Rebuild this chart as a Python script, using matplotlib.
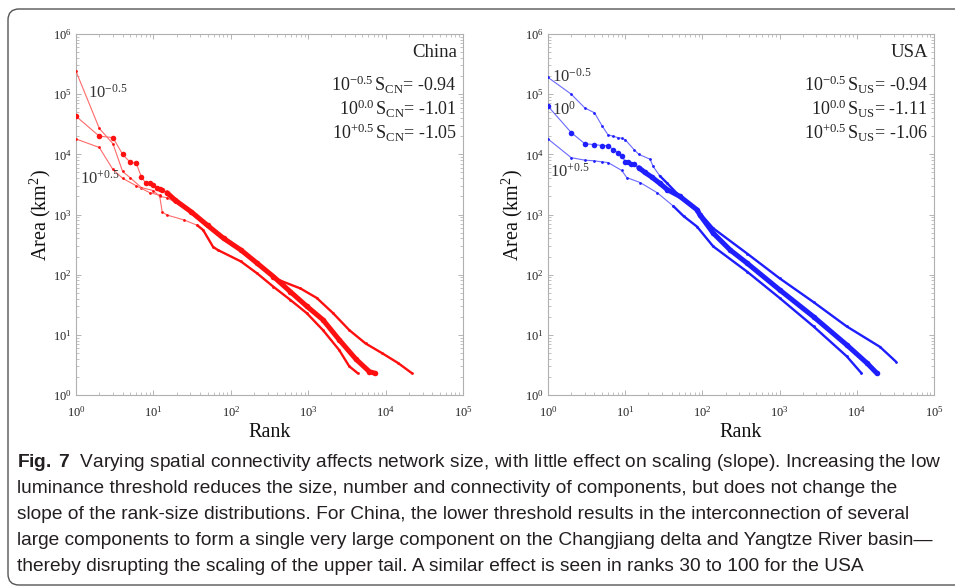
import numpy as np
import matplotlib
matplotlib.use("Agg")
import matplotlib.pyplot as plt
from matplotlib import font_manager
from matplotlib.patches import FancyBboxPatch
from matplotlib.transforms import IdentityTransform
from matplotlib.ticker import LogLocator, NullFormatter

# ---- data (rank, area in km^2) ----
# China
cn_lo_rank = [1, 2, 3, 4, 5, 7, 10, 12, 15, 19, 31, 50, 81, 135, 219, 355, 479,
              794, 1290, 2090, 3390, 5500, 8910, 14500, 21900]
cn_lo_area = [2.4e5, 2.7e4, 1.5e4, 5.2e3, 4.1e3, 2.8e3, 2.5e3, 2.0e3, 1.9e3, 1.6e3,
              1.05e3, 640, 390, 250, 150, 90, 76, 59, 41, 23, 12, 7.2, 5.0, 3.4, 2.3]

cn_0_rank = [1, 2, 3, 4, 5, 6, 7, 8, 9, 10, 11, 12, 13, 15, 19, 31, 50, 81, 135,
             219, 355, 589, 955, 1550, 2510, 4170, 6170, 7240]
cn_0_area = [4.3e4, 2.0e4, 1.9e4, 1.0e4, 7.4e3, 7.1e3, 4.2e3, 3.3e3, 3.3e3, 3.1e3,
             2.8e3, 2.7e3, 2.6e3, 2.3e3, 1.74e3, 1.1e3, 660, 400, 257, 155, 93, 52,
             30, 17.8, 8.3, 3.9, 2.45, 2.3]

cn_hi_rank = [1, 2, 3, 4, 6, 9, 12, 13, 15, 25, 37, 44, 59, 68, 135, 219, 355, 589,
              955, 1550, 2510, 3390, 4370]
cn_hi_area = [1.8e4, 1.3e4, 5.6e3, 4.0e3, 3.0e3, 2.3e3, 2.1e3, 1.1e3, 980, 810, 660,
              550, 290, 257, 166, 105, 63, 38, 23, 12, 5.6, 3.0, 2.3]

# USA
us_lo_rank = [1, 2, 3, 4, 5, 6, 7, 8, 9, 10, 13, 15, 21, 23, 28, 35, 51, 85, 138,
              380, 1000, 2750, 7400, 20000, 32000]
us_lo_area = [1.9e5, 1.0e5, 5.9e4, 4.9e4, 3.0e4, 2.1e4, 2.0e4, 1.9e4, 1.85e4, 1.75e4,
              1.2e4, 1.0e4, 8.3e3, 6.3e3, 4.4e3, 3.3e3, 2.0e3, 1.2e3, 590, 224, 87,
              35, 13.8, 6.3, 3.6]

us_0_rank = [1, 2, 3, 4, 5, 6, 7, 8, 9, 10, 11, 12, 13, 15, 18, 22, 28, 35, 51, 85,
             93, 138, 229, 380, 1000, 2750, 7400, 13500, 18200]
us_0_area = [6.3e4, 2.3e4, 1.5e4, 1.45e4, 1.4e4, 1.4e4, 1.2e4, 1.07e4, 9.5e3, 7.6e3,
             7.4e3, 7.0e3, 6.8e3, 6.0e3, 5.0e3, 4.2e3, 3.3e3, 2.6e3, 2.0e3, 1.2e3,
             980, 490, 257, 155, 56, 20, 6.8, 3.4, 2.3]

us_hi_rank = [1, 2, 3, 4, 5, 6, 9, 10.5, 15.6, 26, 42, 57, 85, 138, 380, 1000, 2750,
              7400, 11500]
us_hi_area = [1.8e4, 8.8e3, 8.0e3, 7.8e3, 7.5e3, 7.3e3, 5.4e3, 4.1e3, 3.4e3, 2.3e3,
              1.38e3, 940, 630, 295, 112, 41, 13.8, 4.4, 2.3]

cn_slopes = ["-0.94", "-1.01", "-1.05"]
us_slopes = ["-0.94", "-1.11", "-1.06"]
thresholds = ["-0.5", "0.0", "+0.5"]

caption_bold = "Fig.\\ 7"
caption_lines = [
    "Varying spatial connectivity affects network size, with little effect on scaling (slope). Increasing the low",
    "luminance threshold reduces the size, number and connectivity of components, but does not change the",
    "slope of the rank-size distributions. For China, the lower threshold results in the interconnection of several",
    "large components to form a single very large component on the Changjiang delta and Yangtze River basin\u2014",
    "thereby disrupting the scaling of the upper tail. A similar effect is seen in ranks 30 to 100 for the USA",
]

# ---- style ----
try:
    font_manager.findfont("Liberation Sans Narrow", fallback_to_default=False)
    cap_font = "Liberation Sans Narrow"
except ValueError:
    cap_font = "Liberation Sans"

plt.rcParams["font.family"] = "serif"
plt.rcParams["font.serif"] = ["Liberation Serif", "DejaVu Serif"]
plt.rcParams["mathtext.fontset"] = "custom"
plt.rcParams["mathtext.rm"] = "Liberation Serif"
plt.rcParams["mathtext.it"] = "Liberation Serif:italic"
plt.rcParams["mathtext.bf"] = cap_font + ":bold"

W, H = 955, 586
fig = plt.figure(figsize=(W / 100, H / 100), dpi=100)

ax_cn = fig.add_axes([76 / W, 1 - 395 / H, 387 / W, 361 / H])
ax_us = fig.add_axes([548 / W, 1 - 395 / H, 386 / W, 361 / H])


def draw_panel(ax, series, color, line_color, name, sub, slopes):
    for rank, area, big in series:
        r = np.asarray(rank, dtype=float)
        a = np.asarray(area, dtype=float)
        ax.plot(r, a, "-", color=line_color, lw=0.8, marker="o",
                ms=4.0 if big else 2.0, mfc=color, mec=color, mew=0, zorder=3)
        dense = r >= (14 if big else 28)
        ax.plot(r[dense], a[dense], "-", color=color, lw=3.6 if big else 1.7,
                solid_capstyle="round", solid_joinstyle="round", zorder=3)

    ax.set_xscale("log")
    ax.set_yscale("log")
    ax.set_xlim(1, 1e5)
    ax.set_ylim(1, 1e6)
    ax.xaxis.set_major_locator(LogLocator(base=10, numticks=10))
    ax.yaxis.set_major_locator(LogLocator(base=10, numticks=10))
    ax.xaxis.set_minor_locator(LogLocator(base=10, subs=np.arange(2, 10), numticks=20))
    ax.yaxis.set_minor_locator(LogLocator(base=10, subs=np.arange(2, 10), numticks=20))
    ax.xaxis.set_minor_formatter(NullFormatter())
    ax.yaxis.set_minor_formatter(NullFormatter())
    ax.tick_params(which="both", direction="in", top=True, right=True,
                   color="#a8a8a8", labelsize=9, labelcolor="#222222")
    ax.tick_params(which="major", length=3.5, width=0.6)
    ax.tick_params(which="minor", length=2, width=0.5)
    ax.tick_params(axis="x", pad=7)
    ax.tick_params(axis="y", pad=3)
    for s in ax.spines.values():
        s.set_color("#b0b0b0")
        s.set_linewidth(0.8)

    ax.set_xlabel("Rank", fontsize=14.5, labelpad=3, color="#111111")
    ax.set_ylabel("Area (km$^2$)", fontsize=14.5, labelpad=0, color="#111111")

    ax.text(0.984, 0.950, name, transform=ax.transAxes, ha="right", va="center",
            fontsize=13.5, color="#222222")
    for i, (th, sl) in enumerate(zip(thresholds, slopes)):
        ax.text(0.984, 0.859 - i * 0.0665,
                r"$10^{%s}\,$S$_{\mathrm{%s}}$= %s" % (th, sub, sl),
                transform=ax.transAxes, ha="right", va="center",
                fontsize=13, color="#222222")


red, red_line = "#ff1010", "#ff6a6a"
blue, blue_line = "#1e1eff", "#6a6aff"

draw_panel(ax_cn,
           [(cn_lo_rank, cn_lo_area, False),
            (cn_hi_rank, cn_hi_area, False),
            (cn_0_rank, cn_0_area, True)],
           red, red_line, "China", "CN", cn_slopes)
draw_panel(ax_us,
           [(us_lo_rank, us_lo_area, False),
            (us_hi_rank, us_hi_area, False),
            (us_0_rank, us_0_area, True)],
           blue, blue_line, "USA", "US", us_slopes)

lab_kw = dict(fontsize=12, color="#333333", ha="left", va="center")
ax_cn.text(0.031, 0.837, r"$10^{-0.5}$", transform=ax_cn.transAxes, **lab_kw)
ax_cn.text(0.010, 0.598, r"$10^{+0.5}$", transform=ax_cn.transAxes, **lab_kw)
ax_us.text(0.011, 0.881, r"$10^{-0.5}$", transform=ax_us.transAxes, **lab_kw)
ax_us.text(0.011, 0.789, r"$10^{0}$", transform=ax_us.transAxes, **lab_kw)
ax_us.text(0.006, 0.618, r"$10^{+0.5}$", transform=ax_us.transAxes, **lab_kw)

# frame around the figure block
frame = FancyBboxPatch((8, 1), 1100, 576, boxstyle="round,pad=0,rounding_size=11",
                       transform=IdentityTransform(), fill=False,
                       edgecolor="#555555", linewidth=1.0)
fig.add_artist(frame)

# caption
cap_color = "#231f20"
cap_size = 13.8
baselines = [467, 493, 519, 545, 571]
first = r"$\mathbf{%s}$  %s" % (caption_bold, caption_lines[0])
for y, line in zip(baselines, [first] + caption_lines[1:]):
    fig.text(17 / W, 1 - y / H, line, fontsize=cap_size, family=cap_font,
             color=cap_color, va="baseline")

fig.savefig("out.png", dpi=100)
